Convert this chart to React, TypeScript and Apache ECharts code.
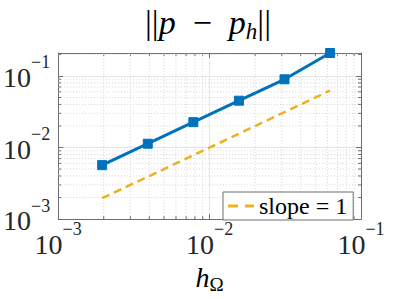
import React, { useEffect, useRef } from "react";
import * as echarts from "echarts";

// ---- data ----
const hValues = [0.001953, 0.003906, 0.007813, 0.015625, 0.03125, 0.0625];
const errorValues = [0.00567, 0.0113, 0.0226, 0.0451, 0.0897, 0.209];
const slopeValues = [0.00196, 0.0039, 0.0078, 0.0156, 0.0312, 0.0625];
const xRange = [0.001, 0.1];
const yRange = [0.001, 0.209];
const xMinorTicks = [
  0.002, 0.003, 0.004, 0.005, 0.006, 0.007, 0.008, 0.009,
  0.02, 0.03, 0.04, 0.05, 0.06, 0.07, 0.08, 0.09,
];
const yMinorTicks = [
  0.002, 0.003, 0.004, 0.005, 0.006, 0.007, 0.008, 0.009,
  0.02, 0.03, 0.04, 0.05, 0.06, 0.07, 0.08, 0.09, 0.2,
];
const seriesNames = ["error", "slope = 1"];

const SERIF = "Liberation Serif";
const BLUE = "#0072BD";
const YELLOW = "#EDB120";
const AXIS = "#6e6e6e";
const LABEL = "#262626";

const tickRich = {
  b: { fontFamily: SERIF, fontSize: 28, lineHeight: 38, color: LABEL, verticalAlign: "bottom" },
  s: { fontFamily: SERIF, fontSize: 18, lineHeight: 20, color: LABEL, verticalAlign: "top" },
};

const powLabel = (v: number) => {
  const e = Math.log10(v);
  const r = Math.round(e);
  if (Math.abs(e - r) > 1e-6) return "";
  return `{b|10}{s|${r < 0 ? "\u2212" : ""}${Math.abs(r)}}`;
};

const minorGrid = (vertical: boolean) => (params: any, api: any) => {
  const v = api.value(vertical ? 0 : 1);
  const p0 = vertical ? api.coord([v, yRange[0]]) : api.coord([xRange[0], v]);
  const p1 = vertical ? api.coord([v, yRange[1]]) : api.coord([xRange[1], v]);
  const t = 3;
  return {
    type: "group",
    children: [
      {
        type: "line",
        shape: { x1: p0[0], y1: p0[1], x2: p1[0], y2: p1[1] },
        style: { stroke: "#d4d4d4", lineWidth: 1, lineDash: [1, 2] },
      },
      {
        type: "line",
        shape: vertical
          ? { x1: p0[0], y1: p0[1], x2: p0[0], y2: p0[1] - t }
          : { x1: p0[0], y1: p0[1], x2: p0[0] + t, y2: p0[1] },
        style: { stroke: AXIS, lineWidth: 1 },
      },
      {
        type: "line",
        shape: vertical
          ? { x1: p1[0], y1: p1[1], x2: p1[0], y2: p1[1] + t }
          : { x1: p1[0], y1: p1[1], x2: p1[0] - t, y2: p1[1] },
        style: { stroke: AXIS, lineWidth: 1 },
      },
    ],
  };
};

const logAxis = (range: number[], extra: any) => ({
  type: "log",
  logBase: 10,
  min: range[0],
  max: range[1],
  axisLine: { show: true, lineStyle: { color: AXIS, width: 1 } },
  axisTick: { show: true, inside: true, length: 5, lineStyle: { color: AXIS } },
  splitLine: { show: false },
  ...extra,
});

const option: any = {
  animation: false,
  backgroundColor: "#ffffff",
  textStyle: { fontFamily: SERIF },
  grid: { left: 55, right: 38, top: 53, bottom: 70 },
  graphic: [
    {
      type: "text",
      x: 208,
      y: 5,
      z: 10,
      style: {
        text: "{n|||}{i|p}{n|\u2002\u2212\u2002}{i|p}{sub|h}{n|||}",
        align: "center",
        verticalAlign: "top",
        fontFamily: SERIF,
        rich: {
          n: { fontFamily: SERIF, fontSize: 34, lineHeight: 38, fill: "#000", verticalAlign: "top" },
          i: { fontFamily: SERIF, fontSize: 34, lineHeight: 38, fontStyle: "italic", fill: "#000", verticalAlign: "top" },
          sub: { fontFamily: SERIF, fontSize: 23, lineHeight: 24, fontStyle: "italic", fill: "#000", verticalAlign: "bottom" },
        },
      },
    },
  ],
  legend: {
    data: [{ name: seriesNames[1], icon: "path://M0,0H10V3H0Z M17,0H26V3H17Z" }],
    left: 223,
    top: 192,
    padding: [2, 6, 2, 5],
    itemWidth: 26,
    itemHeight: 3,
    backgroundColor: "#ffffff",
    borderColor: AXIS,
    borderWidth: 1,
    borderRadius: 0,
    textStyle: { fontFamily: SERIF, fontSize: 24, color: "#000" },
  },
  xAxis: [
    logAxis(xRange, {
      position: "bottom",
      axisLabel: { margin: 1, formatter: powLabel, rich: tickRich },
      splitLine: { show: true, lineStyle: { color: "#e6e6e6", width: 1 } },
      name: "{h|h}{o|\u03A9}",
      nameLocation: "middle",
      nameGap: 30,
      nameTextStyle: {
        fontFamily: SERIF,
        rich: {
          h: { fontFamily: SERIF, fontSize: 28, lineHeight: 34, fontStyle: "italic", color: "#000" },
          o: { fontFamily: SERIF, fontSize: 19, lineHeight: 22, color: "#000", verticalAlign: "bottom" },
        },
      },
    }),
    logAxis(xRange, { position: "top", axisLabel: { show: false } }),
  ],
  yAxis: [
    logAxis(yRange, {
      position: "left",
      axisLabel: { margin: 8, formatter: powLabel, rich: tickRich, padding: [0, 0, 7, 0], showMaxLabel: false },
      splitLine: { show: true, lineStyle: { color: "#e6e6e6", width: 1 } },
    }),
    logAxis(yRange, { position: "right", axisLabel: { show: false } }),
  ],
  series: [
    {
      type: "custom",
      silent: true,
      z: 1,
      clip: false,
      renderItem: minorGrid(true),
      data: xMinorTicks.map((v) => [v, yRange[0]]),
    },
    {
      type: "custom",
      silent: true,
      z: 1,
      clip: false,
      renderItem: minorGrid(false),
      data: yMinorTicks.map((v) => [xRange[0], v]),
    },
    {
      name: seriesNames[0],
      type: "line",
      z: 4,
      clip: false,
      data: hValues.map((h, i) => [h, errorValues[i]]),
      lineStyle: { color: BLUE, width: 3 },
      itemStyle: { color: BLUE, borderColor: BLUE, borderWidth: 1 },
      symbol: "rect",
      symbolSize: 9,
    },
    {
      name: seriesNames[1],
      type: "line",
      z: 3,
      data: hValues.map((h, i) => [h, slopeValues[i]]),
      lineStyle: { color: YELLOW, width: 2.5, type: [8, 5] },
      itemStyle: { color: YELLOW },
      symbol: "none",
      showSymbol: false,
    },
  ],
};

export default function App() {
  const ref = useRef<HTMLDivElement>(null);
  useEffect(() => {
    const chart = echarts.init(ref.current!, null, { renderer: "svg" });
    chart.setOption(option);
    return () => chart.dispose();
  }, []);
  return (
    <div
      ref={ref}
      style={{ position: "fixed", left: 0, top: 0, width: 399, height: 299, background: "#fff" }}
    />
  );
}
